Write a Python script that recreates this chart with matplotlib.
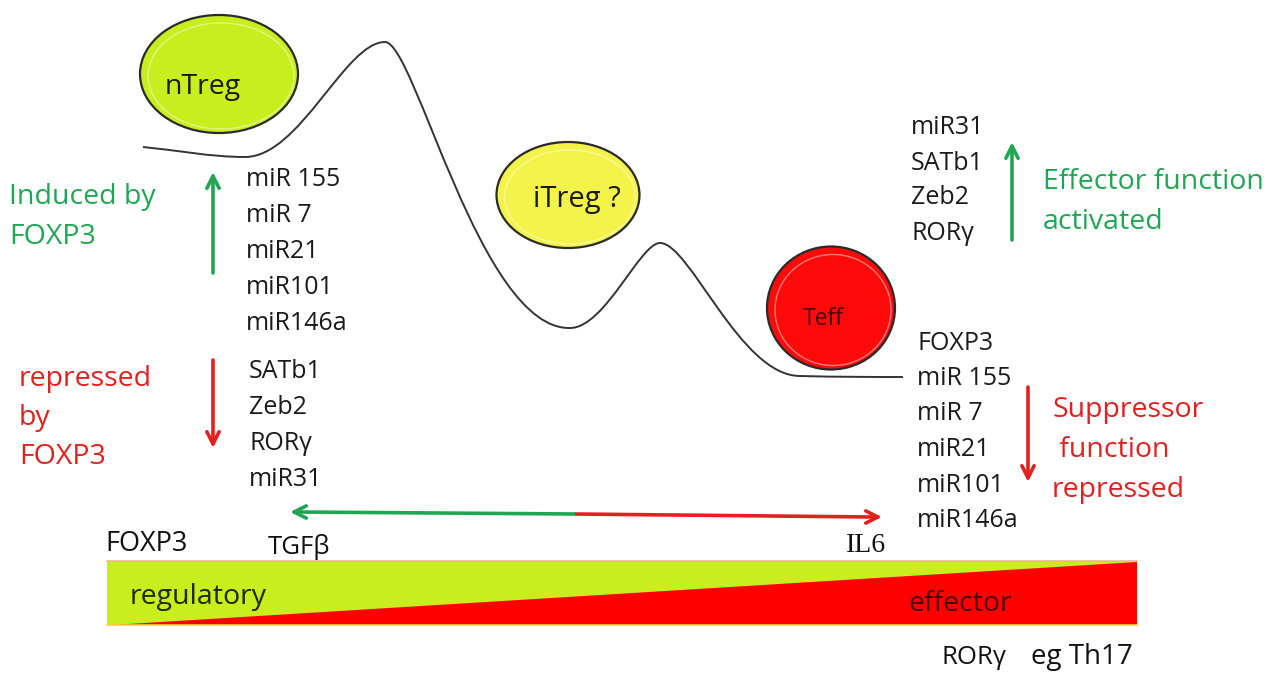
import matplotlib
matplotlib.use("Agg")
import matplotlib.pyplot as plt
from matplotlib.patches import Ellipse, Polygon, Rectangle, PathPatch
from matplotlib.path import Path

plt.rcParams['font.family'] = ['Open Sans', 'DejaVu Serif']

GREEN = '#1fa653'
RED = '#e3201f'
LIME = '#c9ee1e'

# energy landscape: anchor points and bezier handles (pixel coords)
curve_pts = [(143, 147),
             (175, 150), (210, 157), (245, 157),
             (300, 157), (345, 42), (385, 42),
             (415, 42), (480, 330), (570, 328),
             (605, 328), (640, 243), (660, 243),
             (690, 243), (740, 376), (800, 376),
             (840, 377), (870, 377), (903, 377)]

# cells: name, centre, width, height, colour, text size, text colour, text centre
cells = [("nTreg", (219, 74), 158, 118, LIME, 20.5, '#1a1a00', (203, 87)),
         ("iTreg ?", (568, 195), 143, 106, '#f3f34a', 21, '#1a1a00', (577, 199)),
         ("Teff", (831, 308), 128, 123, '#ff0a0a', 16.5, '#4a0000', (823, 319))]

left_up_genes = ["miR 155", "miR 7", "miR21", "miR101", "miR146a"]
left_down_genes = ["SATb1", "Zeb2", "ROR\u03b3", "miR31"]
right_up_genes = ["miR31", "SATb1", "Zeb2", "ROR\u03b3"]
right_down_genes = ["FOXP3", "miR 155", "miR 7", "miR21", "miR101", "miR146a"]

fig = plt.figure(figsize=(12.71, 6.74), dpi=100)
ax = fig.add_axes([0, 0, 1, 1])
ax.set_xlim(0, 1271)
ax.set_ylim(674, 0)
ax.axis('off')

# landscape curve
codes = [Path.MOVETO] + [Path.CURVE4] * (len(curve_pts) - 1)
ax.add_patch(PathPatch(Path(curve_pts, codes), fc='none', ec='#333333', lw=1.4))

# cells
for name, c, w, h, col, fs, tc, tpos in cells:
    ax.add_patch(Ellipse(c, w, h, fc=col, ec='#2a2a2a', lw=1.6))
    ax.add_patch(Ellipse((c[0] + 2, c[1] + 2), w - 12, h - 12, fc='none',
                         ec='white', lw=1.0, alpha=0.45))
    ax.text(tpos[0], tpos[1], name, fontsize=fs, color=tc,
            ha='center', va='center')


def arrow(x, y0, y1, col):
    ax.annotate("", xy=(x, y1), xytext=(x, y0),
                arrowprops=dict(arrowstyle='->', color=col, lw=2.6,
                                mutation_scale=22, shrinkA=0, shrinkB=0))


def stack(lines, x, y0, dy, col='#1a1a1a', fs=18):
    for i, s in enumerate(lines):
        ax.text(x, y0 + i * dy, s, fontsize=fs, color=col, ha='left', va='center')


# left side
stack(["Induced by", "FOXP3"], 9, 197, 40, GREEN, 20.5)
arrow(213, 273, 172, GREEN)
stack(left_up_genes, 246, 179, 36)
stack(["repressed", "by", "FOXP3"], 19, 379, 39, RED, 20.5)
arrow(213, 360, 448, RED)
stack(left_down_genes, 249, 371, 36)

# right side
stack(right_up_genes, 911, 128, 35)
arrow(1012, 240, 142, GREEN)
stack(["Effector function", "activated"], 1043, 182, 40, GREEN, 20.5)
stack(right_down_genes, 917, 343, 35.5)
arrow(1028, 387, 482, RED)
stack(["Suppressor", " function", "repressed"], 1052, 410, 40, RED, 20.5)

# TGFb / IL6 double arrow
ax.plot([575, 298], [514, 512], color=GREEN, lw=2.6, solid_capstyle='butt')
ax.annotate("", xy=(290, 512), xytext=(300, 512),
            arrowprops=dict(arrowstyle='->', color=GREEN, lw=2.6,
                            mutation_scale=22, shrinkA=0, shrinkB=0))
ax.plot([575, 872], [514, 517], color=RED, lw=2.6, solid_capstyle='butt')
ax.annotate("", xy=(882, 517), xytext=(872, 517),
            arrowprops=dict(arrowstyle='->', color=RED, lw=2.6,
                            mutation_scale=22, shrinkA=0, shrinkB=0))

# gradient bar
bar_x0, bar_x1, bar_top, bar_bot = 107, 1137, 561, 625
ax.add_patch(Rectangle((bar_x0, bar_top), bar_x1 - bar_x0, bar_bot - bar_top,
                       fc=LIME, ec='none'))
ax.add_patch(Polygon([(bar_x0 + 5, bar_bot), (bar_x1, bar_top + 1), (bar_x1, bar_bot)],
                     closed=True, fc='#ff0000', ec='none'))
ax.plot([bar_x0, bar_x1], [bar_top, bar_top], color='#e9b98a', lw=1.2)
ax.plot([bar_x0, bar_x1], [bar_bot, bar_bot], color='#f2d24a', lw=1.2)

ax.text(105, 544, "FOXP3", fontsize=19.5, color='#111111', va='center')
ax.text(268, 547, "TGF\u03b2", fontsize=18.5, color='#111111', va='center')
ax.text(846, 546, "IL6", fontsize=20, color='#111111', va='center',
        family='Liberation Serif')
ax.text(130, 597, "regulatory", fontsize=20.5, color='#1f2a00', va='center')
ax.text(908, 604, "effector", fontsize=20.5, color='#4a0000', va='center')
ax.text(942, 657, "ROR\u03b3", fontsize=18.5, color='#111111', va='center')
ax.text(1031, 657, "eg Th17", fontsize=20, color='#111111', va='center')

fig.savefig("out.png", dpi=100)
